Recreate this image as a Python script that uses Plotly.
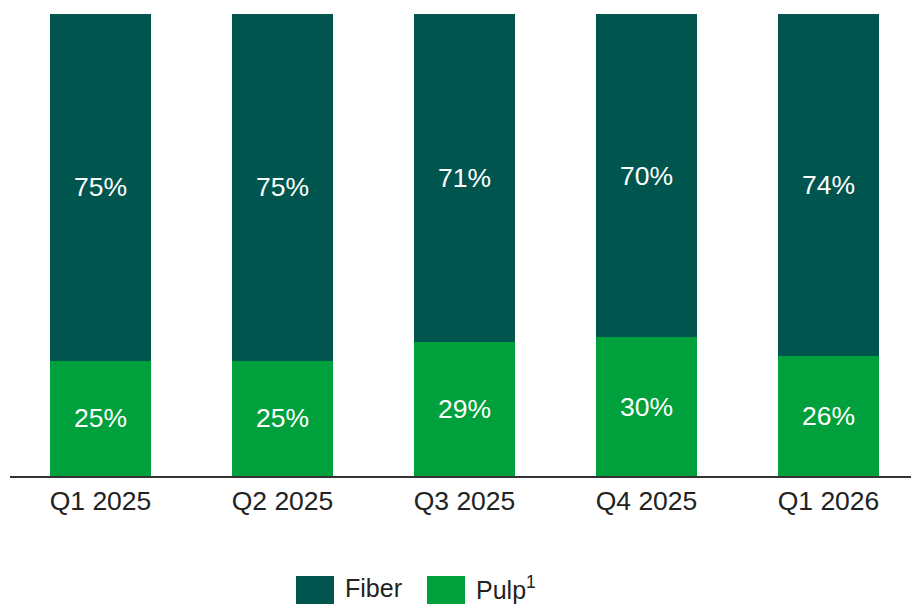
import plotly.graph_objects as go

# Share of volume by product line, per quarter (percent)
quarters = ["Q1 2025", "Q2 2025", "Q3 2025", "Q4 2025", "Q1 2026"]
pulp_pct = [25, 25, 29, 30, 26]
fiber_pct = [75, 75, 71, 70, 74]

series_names = ["Fiber", "Pulp"]
legend_labels = ["Fiber", "Pulp<sup>1</sup>"]
FIBER_COLOR = "#00564F"
PULP_COLOR = "#00A03C"
FONT = "Liberation Sans, Arial, sans-serif"
FS = 26.5

W, H = 911, 605
ML, MR, MT, MB = 10, 0, 14, 129
plot_w = W - ML - MR
plot_h = H - MT - MB

fig = go.Figure()
fig.add_trace(go.Bar(
    x=quarters, y=pulp_pct, name=series_names[1],
    marker=dict(color=PULP_COLOR, line=dict(width=0)),
    texttemplate="%{y}%", textposition="inside", insidetextanchor="middle",
    textfont=dict(family=FONT, size=FS, color="white"),
))
fig.add_trace(go.Bar(
    x=quarters, y=fiber_pct, name=series_names[0],
    marker=dict(color=FIBER_COLOR, line=dict(width=0)),
    texttemplate="%{y}%", textposition="inside", insidetextanchor="middle",
    textfont=dict(family=FONT, size=FS, color="white"),
))

# Custom legend with large swatches below the axis
def px_x(px):
    return (px - ML) / plot_w

def px_y(py):
    return (H - MB - py) / plot_h

swatches = [(296, 334, FIBER_COLOR, 343), (427, 465, PULP_COLOR, 474)]
for (x0, x1, col, tx), label in zip(swatches, legend_labels):
    fig.add_shape(type="rect", xref="paper", yref="paper",
                  x0=px_x(x0), x1=px_x(x1), y0=px_y(604), y1=px_y(576),
                  fillcolor=col, line=dict(width=0))
    fig.add_annotation(xref="paper", yref="paper", x=px_x(tx), y=px_y(588),
                       text=label, showarrow=False, xanchor="left", yanchor="middle",
                       font=dict(family=FONT, size=25, color="#222222"))

step = 182.0
fig.update_layout(
    barmode="stack",
    bargap=1 - 101 / step,
    width=W, height=H,
    margin=dict(l=ML, r=MR, t=MT, b=MB, pad=0),
    paper_bgcolor="white", plot_bgcolor="white",
    showlegend=False,
    hovermode=False,
    font=dict(family=FONT, color="#222222"),
    xaxis=dict(
        range=[-(100.5 - ML) / step, (W - 100.5) / step],
        showgrid=False, zeroline=False,
        showline=True, linecolor="#333333", linewidth=1.5,
        ticks="", tickfont=dict(family=FONT, size=FS, color="#222222"),
    ),
    yaxis=dict(range=[0, 100], visible=False, showgrid=False, zeroline=False),
)

fig.write_html("out.html")
